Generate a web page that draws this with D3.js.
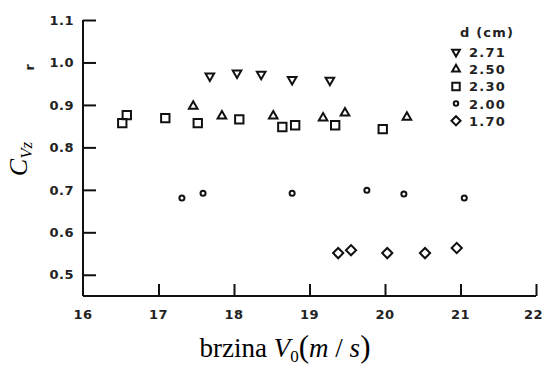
<!DOCTYPE html>
<html lang="en">
<head>
<meta charset="UTF-8">
<title>C_Vz vs V0</title>
<script src="https://d3js.org/d3.v7.min.js"></script>
<style>
  body { margin: 0; background: #fff; }
  .tick-label { font-family: 'DejaVu Sans', sans-serif; font-weight: bold; font-size: 13px; fill: #222; letter-spacing: 0.5px; }
  .legend text { font-family: 'DejaVu Sans', sans-serif; font-weight: bold; font-size: 13px; fill: #222; letter-spacing: 1.2px; }
  .title { font-family: 'Liberation Serif', 'Times New Roman', serif; fill: #000; }
</style>
</head>
<body>
<div id="chart"></div>
<script>
// d (cm) groups
const groups = ["2.71", "2.50", "2.30", "2.00", "1.70"];

// speed V0 (m/s) and C_Vz for each group
const v271 = [17.68, 18.04, 18.36, 18.77, 19.27];
const c271 = [0.968, 0.975, 0.972, 0.960, 0.958];

const v250 = [17.46, 17.84, 18.52, 19.18, 19.47, 20.29];
const c250 = [0.897, 0.874, 0.874, 0.869, 0.881, 0.871];

const v230 = [16.52, 16.58, 17.09, 17.52, 18.07, 18.64, 18.81, 19.34, 19.97];
const c230 = [0.857, 0.876, 0.869, 0.857, 0.866, 0.848, 0.852, 0.852, 0.843];

const v200 = [17.31, 17.59, 18.77, 19.76, 20.25, 21.05];
const c200 = [0.681, 0.692, 0.692, 0.699, 0.690, 0.681];

const v170 = [19.38, 19.55, 20.03, 20.53, 20.95];
const c170 = [0.551, 0.558, 0.551, 0.551, 0.563];

const xTicks = [16, 17, 18, 19, 20, 21, 22];
const yTicks = [0.5, 0.6, 0.7, 0.8, 0.9, 1.0, 1.1];

const width = 544, height = 365;

const series = [
  {name: groups[0], v: v271, c: c271, type: d3.symbolTriangle, rot: 180, size: 32},
  {name: groups[1], v: v250, c: c250, type: d3.symbolTriangle, rot: 0, size: 32},
  {name: groups[2], v: v230, c: c230, type: d3.symbolSquare, rot: 0, size: 70},
  {name: groups[3], v: v200, c: c200, type: d3.symbolCircle, rot: 0, size: 20},
  {name: groups[4], v: v170, c: c170, type: d3.symbolSquare, rot: 45, size: 52}
];

const svg = d3.select("#chart").append("svg")
  .attr("width", width)
  .attr("height", height);

const x = d3.scaleLinear().domain([16, 22]).range([83, 536]);
const y = d3.scaleLinear().domain([0.45, 1.1]).range([296, 20]);

// axes (ticks point inward)
const xAxis = svg.append("g")
  .attr("transform", `translate(0,${y(0.45)})`)
  .call(d3.axisBottom(x).tickValues(xTicks.slice(1)).tickSize(-12).tickFormat(""));
xAxis.select(".domain").attr("d", `M${x(16)},0H${x(22)}`);

const yAxis = svg.append("g")
  .attr("transform", `translate(${x(16)},0)`)
  .call(d3.axisLeft(y).tickValues(yTicks).tickSize(-13).tickFormat(""));
yAxis.select(".domain").attr("d", `M0,${y(1.1)}V${y(0.45)}`);

svg.selectAll(".domain, .tick line").attr("stroke", "#111").attr("stroke-width", 2);

// tick labels
svg.append("g").selectAll("text")
  .data(yTicks).join("text")
  .attr("class", "tick-label")
  .attr("x", 74)
  .attr("y", d => y(d))
  .attr("dy", "0.36em")
  .attr("text-anchor", "end")
  .text(d => d.toFixed(1));

// last label hugs the right edge so it isn't clipped
svg.append("g").selectAll("text")
  .data(xTicks).join("text")
  .attr("class", "tick-label")
  .attr("x", d => d === 22 ? width - 1 : x(d))
  .attr("y", 319)
  .attr("text-anchor", d => d === 22 ? "end" : "middle")
  .text(d => d);

// data points
series.forEach(s => {
  const sym = d3.symbol().type(s.type).size(s.size);
  svg.append("g").selectAll("path")
    .data(s.v.map((v, i) => [v, s.c[i]]))
    .join("path")
    .attr("d", sym)
    .attr("transform", d => `translate(${x(d[0])},${y(d[1])}) rotate(${s.rot})`)
    .attr("fill", "none")
    .attr("stroke", "#111")
    .attr("stroke-width", 2);
});

// legend
const legend = svg.append("g").attr("class", "legend");
legend.append("text").attr("x", 460).attr("y", 37).text("d (cm)");
series.forEach((s, i) => {
  const ly = 52 + i * 17.2;
  legend.append("path")
    .attr("d", d3.symbol().type(s.type).size(s.size * 0.8))
    .attr("transform", `translate(456,${ly}) rotate(${s.rot})`)
    .attr("fill", "none")
    .attr("stroke", "#111")
    .attr("stroke-width", 2);
  legend.append("text").attr("x", 469).attr("y", ly + 5).text(s.name);
});

// small rotated "r" beside the y axis
svg.append("text")
  .attr("class", "tick-label")
  .attr("transform", "translate(34,67) rotate(-90)")
  .attr("text-anchor", "middle")
  .text("r");

// y axis title C_Vz
const yt = svg.append("text")
  .attr("class", "title")
  .attr("transform", "translate(27,159) rotate(-90)")
  .attr("text-anchor", "middle")
  .attr("font-size", 26)
  .attr("font-style", "italic");
yt.append("tspan").text("C");
yt.append("tspan").attr("font-size", 17).attr("dy", 5).text("Vz");

// x axis title
const xt = svg.append("text")
  .attr("class", "title")
  .attr("x", 285)
  .attr("y", 357)
  .attr("text-anchor", "middle")
  .attr("font-size", 27);
xt.append("tspan").text("brzina ");
xt.append("tspan").attr("font-style", "italic").text("V");
xt.append("tspan").attr("font-size", 17).attr("dy", 5).text("0");
xt.append("tspan").attr("dy", -5).attr("font-size", 31).text("(");
xt.append("tspan").attr("font-style", "italic").text("m");
xt.append("tspan").text(" / ");
xt.append("tspan").attr("font-style", "italic").text("s");
xt.append("tspan").attr("font-size", 31).text(")");
</script>
</body>
</html>
